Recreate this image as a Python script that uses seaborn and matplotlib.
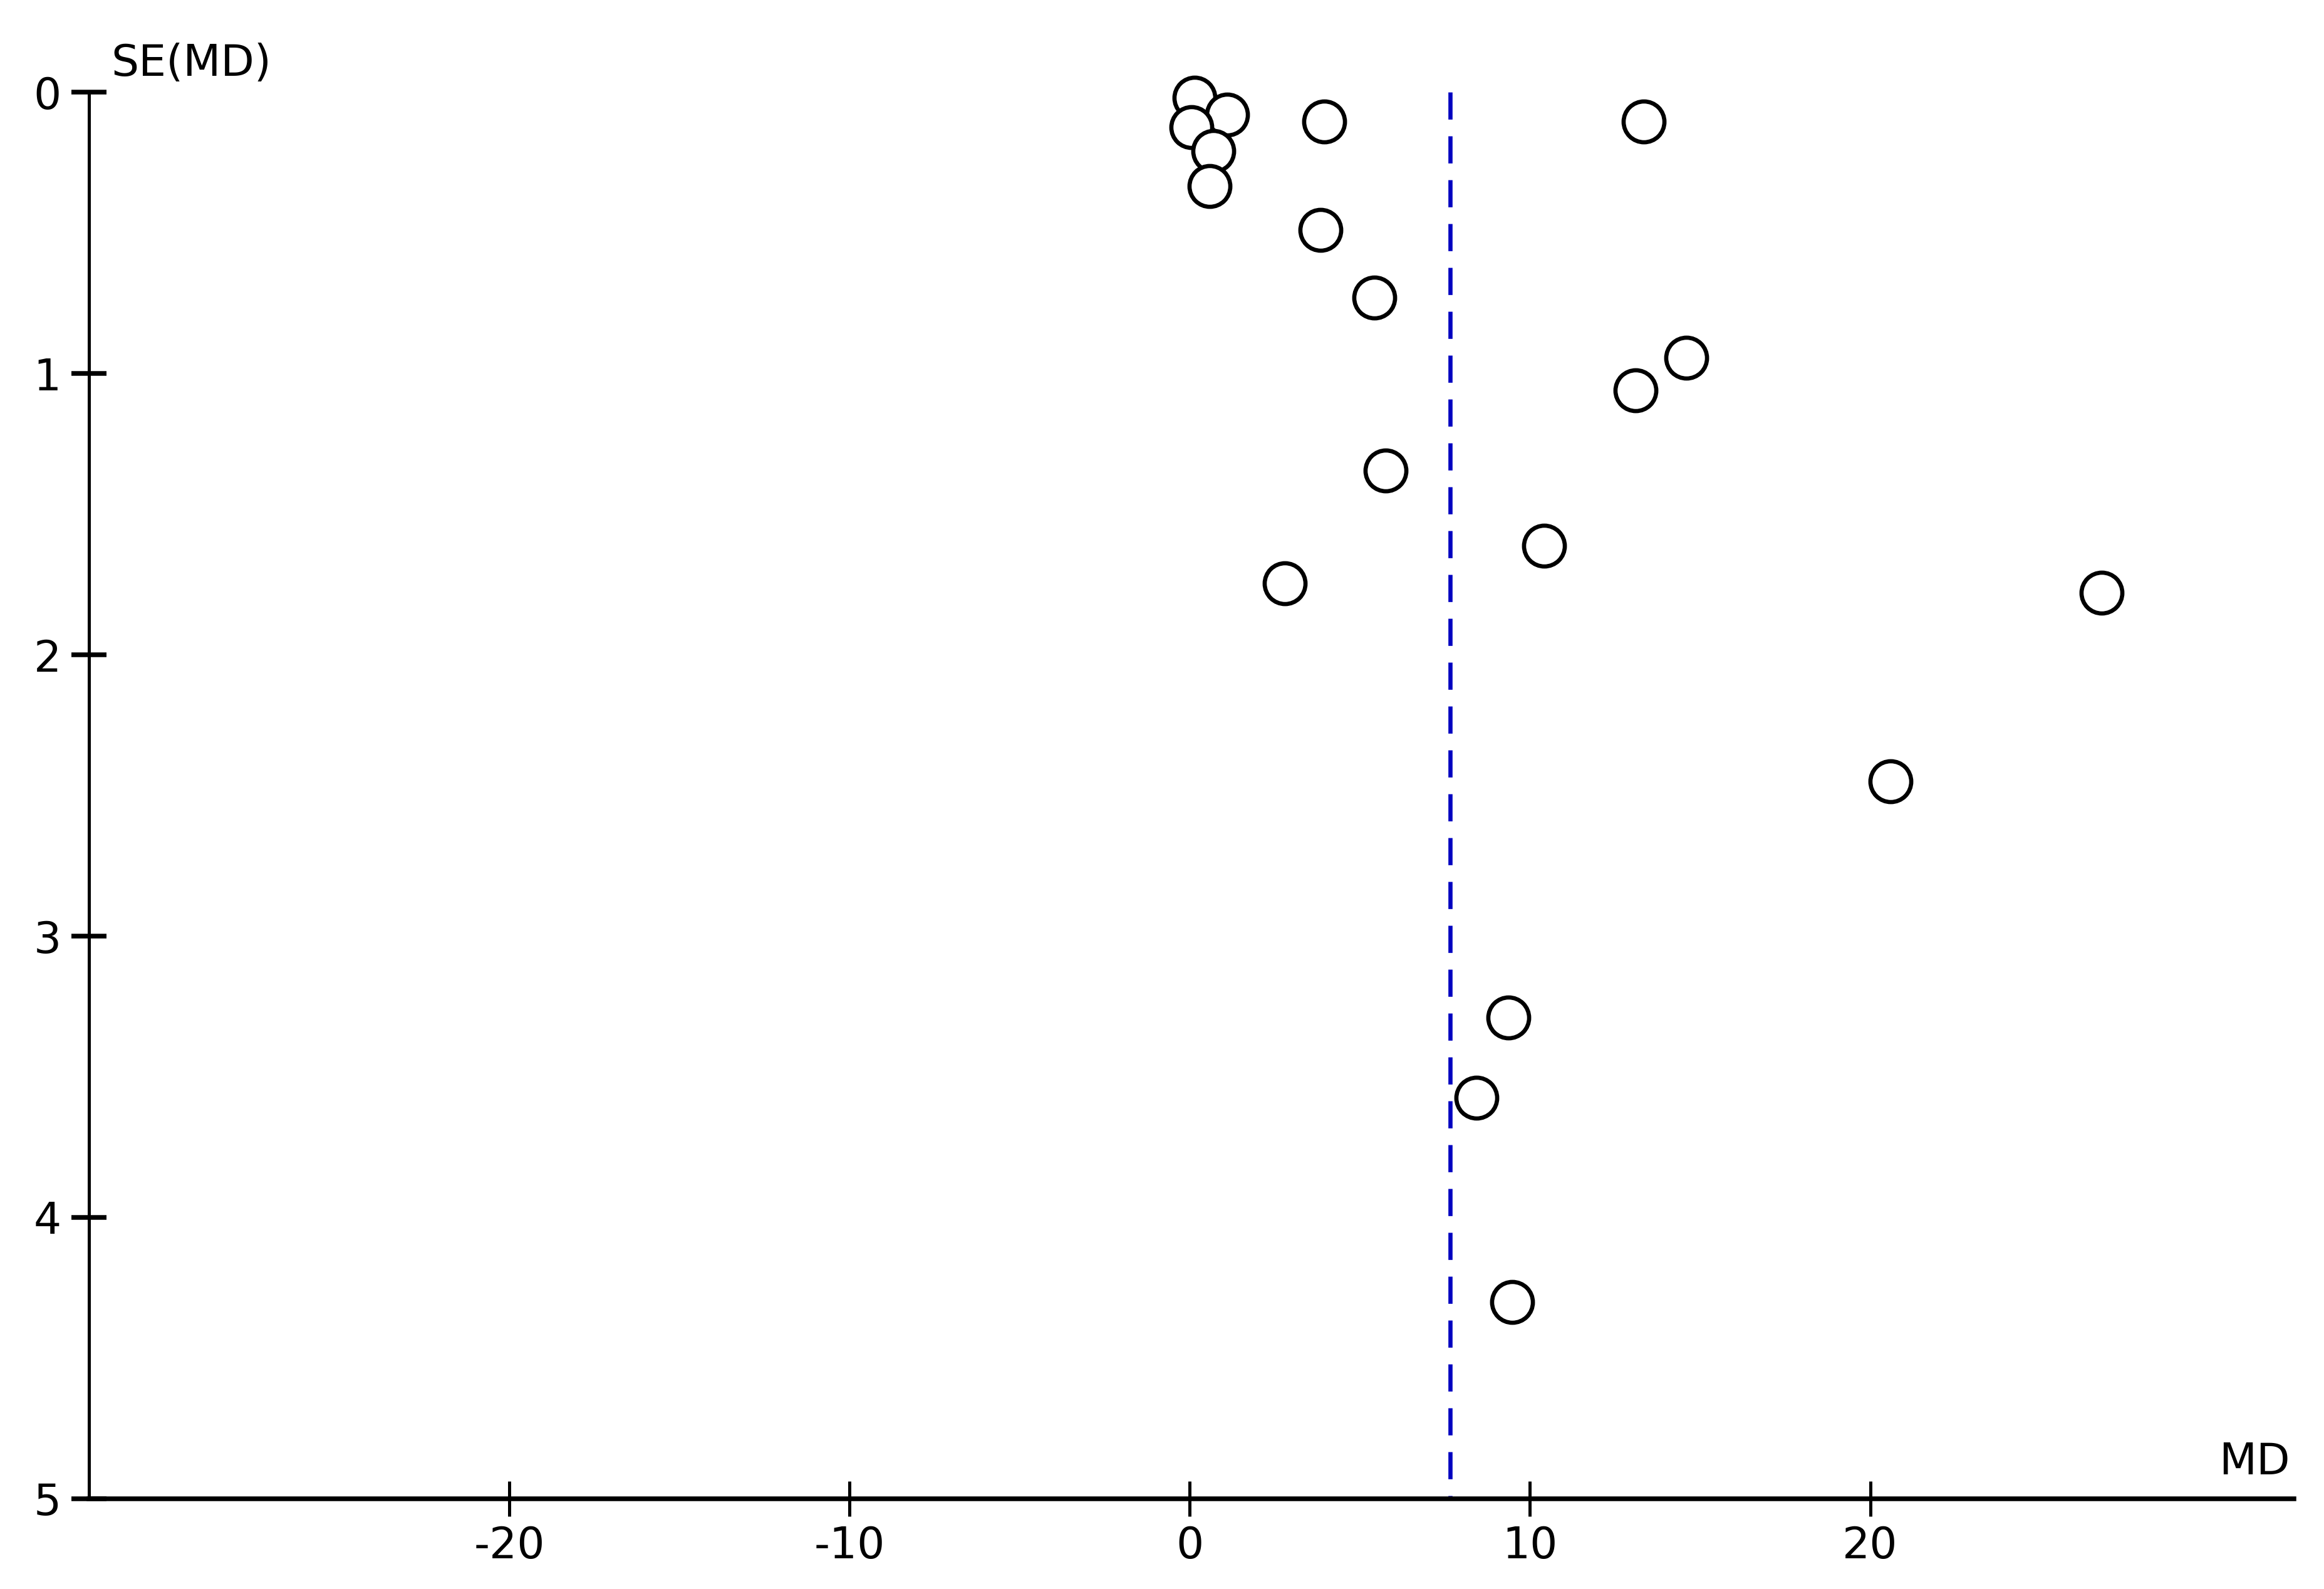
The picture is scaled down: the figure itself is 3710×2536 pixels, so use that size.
import matplotlib
matplotlib.use("Agg")
import matplotlib.pyplot as plt
import pandas as pd
import seaborn as sns

# ── Data ──────────────────────────────────────────────────────────────────────
md = [0.15, 1.1, 0.05, 0.7, 0.58, 3.95, 13.35, 3.85, 5.42, 14.6,
      13.1, 5.75, 10.42, 2.8, 26.8, 20.6, 9.37, 8.42, 9.47]
se_md = [0.02, 0.08, 0.125, 0.21, 0.335, 0.105, 0.105, 0.49, 0.73, 0.945,
         1.06, 1.345, 1.612, 1.745, 1.78, 2.45, 3.29, 3.575, 4.30]
pooled_md = 7.65

x_ticks = [-20, -10, 0, 10, 20]
y_ticks = [0, 1, 2, 3, 4, 5]
x_lim = (-32.35, 32.45)
y_lim = (5, 0)

df = pd.DataFrame({"MD": md, "SE": se_md})

# ── Style ─────────────────────────────────────────────────────────────────────
sns.set_style("white")
plt.rcParams["font.family"] = ["DejaVu Sans"]
plt.rcParams["text.color"] = "black"

fig = plt.figure(figsize=(37.10, 25.36), dpi=100)
ax = fig.add_axes([0.0383, 0.0568, 0.9487, 0.8852])

# pooled estimate line
ax.plot([pooled_md, pooled_md], [y_lim[1], y_lim[0]], color="#0000C0",
        lw=4.8, dashes=(6.5, 4.0), zorder=1, clip_on=False)

sns.scatterplot(data=df, x="MD", y="SE", ax=ax, marker="o", s=2200,
                facecolor="white", edgecolor="black", linewidth=4.8,
                zorder=3, clip_on=False, legend=False)

ax.set_xlim(*x_lim)
ax.set_ylim(*y_lim)
ax.set_xticks(x_ticks)
ax.set_xticklabels([str(t) for t in x_ticks])
ax.set_yticks(y_ticks)
ax.set_yticklabels([str(t) for t in y_ticks])
ax.set_xlabel("")
ax.set_ylabel("")

for side in ["top", "right"]:
    ax.spines[side].set_visible(False)
ax.spines["left"].set_linewidth(3.6)
ax.spines["bottom"].set_linewidth(5.4)
ax.spines["left"].set_color("black")
ax.spines["bottom"].set_color("black")

ax.tick_params(axis="x", bottom=True, direction="inout", length=40, width=3.6,
               pad=10, labelsize=50, colors="black")
ax.tick_params(axis="y", left=True, direction="inout", length=40, width=5.4,
               pad=12, labelsize=50, colors="black")
ax.grid(False)

fig.text(0.0478, 0.960, "SE(MD)", fontsize=50, ha="left", va="center",
         color="black")
fig.text(0.9855, 0.080, "MD", fontsize=50, ha="right", va="center",
         color="black")

fig.savefig("out.png", dpi=100, facecolor="white")
